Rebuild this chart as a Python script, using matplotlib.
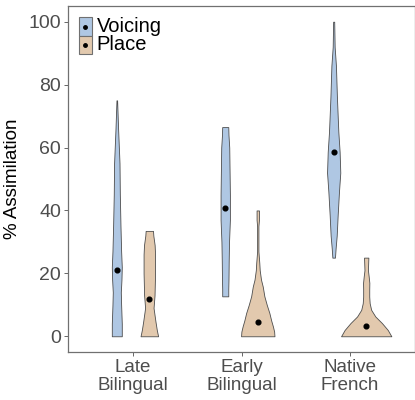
import numpy as np
import matplotlib
matplotlib.use("Agg")
import matplotlib.pyplot as plt
from matplotlib.patches import Rectangle

plt.rcParams["font.family"] = ["Liberation Sans", "DejaVu Sans"]

# ---------------------------------------------------------------------------
# data: violin outlines (y level, half-width in x units)
# ---------------------------------------------------------------------------
groups = ["Late\nBilingual", "Early\nBilingual", "Native\nFrench"]
conditions = ["Voicing", "Place"]
colors = {"Voicing": "#AFC7E3", "Place": "#E2C9AE"}
dodge = {"Voicing": -0.15, "Place": 0.15}

late_voicing_y = [0, 4, 10, 14, 18, 22, 27, 35, 45, 55, 66, 72, 75]
late_voicing_w = [0.046, 0.046, 0.040, 0.037, 0.043, 0.046, 0.040, 0.034, 0.028, 0.025, 0.012, 0.006, 0.003]
late_place_y = [0, 2, 4.6, 9, 13, 20, 26, 29, 32, 33.5]
late_place_w = [0.081, 0.069, 0.057, 0.039, 0.048, 0.053, 0.053, 0.049, 0.037, 0.034]

early_voicing_y = [12.7, 15, 18, 24, 30, 37, 45, 55, 60, 64, 66.5]
early_voicing_w = [0.028, 0.028, 0.030, 0.032, 0.035, 0.043, 0.043, 0.039, 0.037, 0.030, 0.028]
early_place_y = [0, 1.5, 3.1, 5, 7.4, 10, 12.7, 15.8, 18, 21, 23.4, 27, 35, 37, 40]
early_place_w = [0.154, 0.151, 0.140, 0.124, 0.107, 0.083, 0.061, 0.046, 0.030, 0.018, 0.014, 0.006, 0.006, 0.011, 0.011]

native_voicing_y = [25, 28, 32, 38.6, 46, 52, 58.6, 65, 76, 86, 92, 100]
native_voicing_w = [0.012, 0.018, 0.028, 0.037, 0.049, 0.061, 0.055, 0.043, 0.030, 0.021, 0.009, 0.005]
native_place_y = [0, 2, 4.2, 6.3, 8.4, 10.5, 12.6, 15, 17, 19, 21, 23, 25]
native_place_w = [0.232, 0.199, 0.145, 0.084, 0.046, 0.032, 0.028, 0.028, 0.029, 0.023, 0.016, 0.018, 0.020]

means_voicing = [21.0, 40.8, 58.6]
means_place = [11.7, 4.4, 3.2]

violins = {
    "Voicing": [(late_voicing_y, late_voicing_w), (early_voicing_y, early_voicing_w),
                (native_voicing_y, native_voicing_w)],
    "Place": [(late_place_y, late_place_w), (early_place_y, early_place_w),
              (native_place_y, native_place_w)],
}
means = {"Voicing": means_voicing, "Place": means_place}

# ---------------------------------------------------------------------------
fig = plt.figure(figsize=(4.15, 4.0), dpi=100)
ax = fig.add_axes([68 / 415, 48 / 400, 347 / 415, 346 / 400])

for cond in conditions:
    for i, (vy, vw) in enumerate(violins[cond]):
        xc = i + 1 + dodge[cond]
        vy = np.asarray(vy); vw = np.asarray(vw)
        ax.fill_betweenx(vy, xc - vw, xc + vw, facecolor=colors[cond],
                         edgecolor="#4d4d4d", lw=0.6, zorder=2)
        ax.plot(xc, means[cond][i], "o", color="black", ms=3.4, zorder=3)

ax.set_xlim(0.4, 3.6)
ax.set_ylim(-5, 105)
ax.set_xticks([1, 2, 3])
ax.set_xticklabels(groups, fontsize=13.5, color="#4d4d4d", linespacing=1.1)
ax.set_yticks(range(0, 101, 20))
ax.tick_params(axis="y", labelsize=14, colors="#4d4d4d", length=3, width=0.6, pad=2)
ax.tick_params(axis="x", colors="#4d4d4d", length=3, width=0.6, pad=2)
ax.set_ylabel("% Assimilation", fontsize=13.5, color="black", labelpad=5)
for s in ax.spines.values():
    s.set_color("#707070")
    s.set_linewidth(0.9)

# legend drawn as keys inside the panel (top-left)
key_x, key_w, key_h = 0.031, 0.038, 0.053
for k, cond in enumerate(conditions):
    ytop = 0.967 - k * key_h
    ax.add_patch(Rectangle((key_x, ytop - key_h), key_w, key_h, transform=ax.transAxes,
                           facecolor=colors[cond], edgecolor="#707070", lw=0.8, zorder=4))
    ax.plot(key_x + key_w / 2, ytop - key_h / 2, "o", color="black", ms=2.5,
            transform=ax.transAxes, zorder=5)
    ax.text(0.083, ytop - key_h / 2, cond, transform=ax.transAxes, fontsize=14.5,
            va="center", ha="left", color="black")

fig.savefig("out.png", dpi=100)
